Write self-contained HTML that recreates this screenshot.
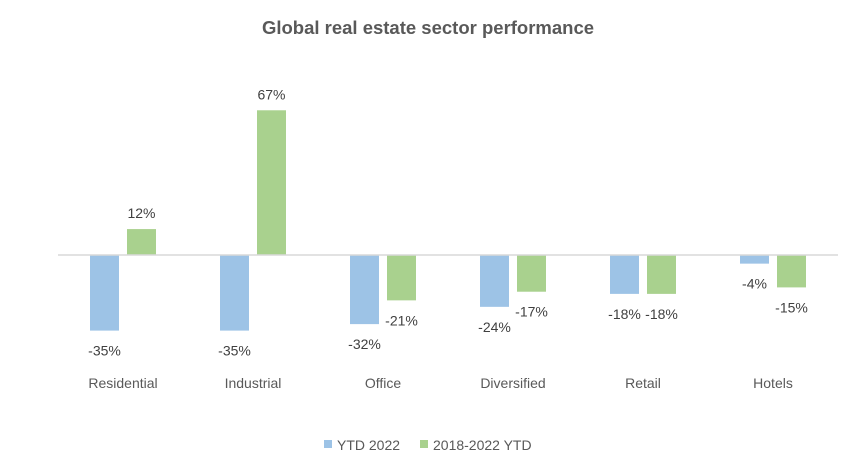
<!DOCTYPE html>
<html><head><meta charset="utf-8"><style>
body{margin:0;background:#fff;}
svg{display:block;font-family:"Liberation Sans",Arial,sans-serif;}
</style></head><body>
<svg id="chart" width="856" height="472">
<text x="428" y="34" text-anchor="middle" font-size="18.5" font-weight="bold" fill="#595959">Global real estate sector performance</text>
<g id="plot"></g>
<g>
<rect x="324" y="440" width="8" height="8" fill="#9dc3e6"></rect>
<text x="337" y="450" font-size="14" fill="#595959">YTD 2022</text>
<rect x="420" y="440" width="8" height="8" fill="#a9d18e"></rect>
<text x="433" y="450" font-size="14" fill="#595959">2018-2022 YTD</text>
</g>
</svg>
<script>
const categories=["Residential","Industrial","Office","Diversified","Retail","Hotels"];
const ytd2022=[-35,-35,-32,-24,-18,-4];
const fiveYear=[12,67,-21,-17,-18,-15];
const ns="http://www.w3.org/2000/svg";
const plot=document.getElementById('plot');
const x0=58,bandW=130,zeroY=255,pxPer=2.16,barW=29,gap=8;
function yScale(v){return zeroY-v*pxPer;}
function xCenter(i){return x0+bandW*(i+0.5);}
function mk(tag,attrs){const e=document.createElementNS(ns,tag);for(const k in attrs)e.setAttribute(k,attrs[k]);plot.appendChild(e);return e;}
const series=[{vals:ytd2022,color:"#9dc3e6",off:-(gap/2+barW),name:"ytd"},{vals:fiveYear,color:"#a9d18e",off:gap/2,name:"5y"}];
series.forEach(s=>{
 s.vals.forEach((v,i)=>{
  const x=xCenter(i)+s.off;
  const y1=Math.min(yScale(v),zeroY),h=Math.abs(yScale(v)-zeroY);
  const r=mk('rect',{x:x,y:y1,width:barW,height:h,fill:s.color});
  
  
  const ly=v>=0?yScale(v)-11:yScale(v)+25;
  const t=mk('text',{x:x+barW/2,y:ly,'text-anchor':'middle','font-size':14,fill:'#404040'});
  t.textContent=v+'%';
  
  
 });
});
const ax=mk('line',{x1:x0,x2:x0+bandW*categories.length,y1:zeroY,y2:zeroY,stroke:'#d9d9d9','stroke-width':1.5});


categories.forEach((c,i)=>{
 const t=mk('text',{x:xCenter(i),y:388,'text-anchor':'middle','font-size':14,fill:'#595959'});
 t.textContent=c;
 
 
});
</script>
</body></html>
